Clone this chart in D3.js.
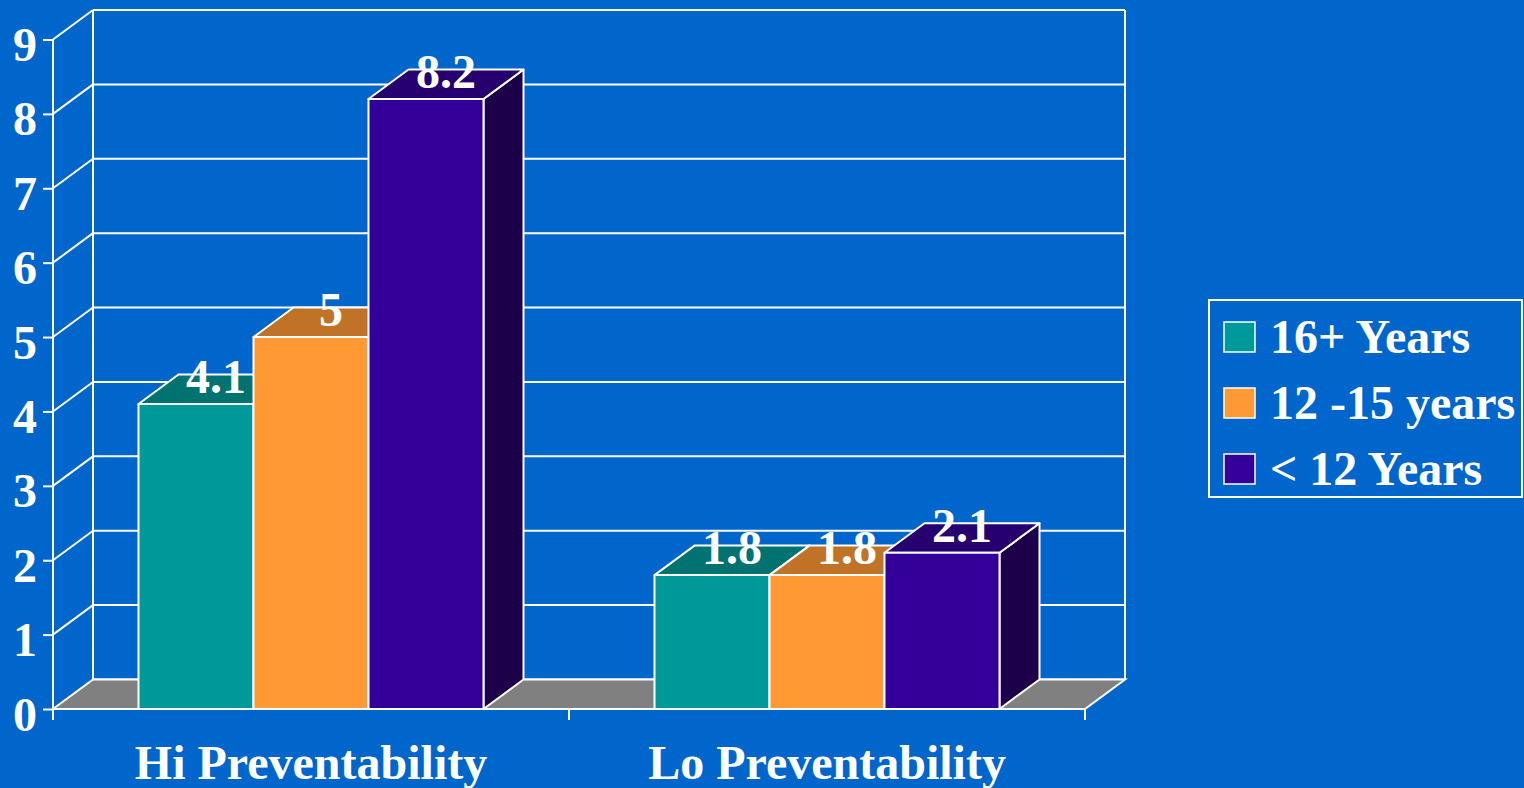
<!DOCTYPE html>
<html>
<head>
<meta charset="utf-8">
<script src="https://cdn.jsdelivr.net/npm/d3@7"></script>
<style>
  html, body { margin: 0; padding: 0; background: #0066CC; }
  svg { display: block; }
  text { font-family: "Liberation Serif", "Times New Roman", serif; font-weight: bold; fill: #fff; }
</style>
</head>
<body>
<svg id="chart" width="1524" height="788"></svg>
<script>
// Chart data
const categories = ["Hi Preventability", "Lo Preventability"];
const seriesNames = ["16+ Years", "12 -15 years", "< 12 Years"];
const years16plus = [4.1, 1.8];
const years12to15 = [5, 1.8];
const under12 = [8.2, 2.1];
const yTicks = [0, 1, 2, 3, 4, 5, 6, 7, 8, 9];

const seriesValues = [years16plus, years12to15, under12];

// Face colours: front, top, side
const palette = [
  { front: "#009999", top: "#007370", side: "#004D4D" },
  { front: "#FF9933", top: "#C07326", side: "#804D1A" },
  { front: "#330099", top: "#26006F", side: "#1C004A" }
];

const FONT = 48;
const svg = d3.select("#chart");
const W = 1524, H = 788;
svg.append("rect").attr("width", W).attr("height", H).attr("fill", "#0066CC");

// 3D depth offset
const DX = 40, DY = -29.5;

const x0 = d3.scaleBand().domain(categories).range([53, 1085]).paddingInner(0).paddingOuter(0);
const x1 = d3.scaleBand().domain(seriesNames).range([85.5, 430.5]).paddingInner(0).paddingOuter(0);
const y = d3.scaleLinear().domain([0, 9]).range([709, 39.5]);

const xL = x0.range()[0], xR = x0.range()[1];
const white = "#ffffff";

const walls = svg.append("g").attr("stroke", white).attr("stroke-width", 2).attr("fill", "none");

// Back wall gridlines
walls.selectAll("line.grid").data(yTicks).join("line")
  .attr("x1", xL + DX).attr("x2", xR + DX)
  .attr("y1", d => y(d) + DY).attr("y2", d => y(d) + DY);
// Side wall diagonals
walls.selectAll("line.diag").data(yTicks.filter(d => d > 0)).join("line")
  .attr("x1", xL).attr("y1", d => y(d))
  .attr("x2", xL + DX).attr("y2", d => y(d) + DY);
// Back wall verticals
walls.append("line").attr("x1", xL + DX).attr("x2", xL + DX).attr("y1", y(9) + DY).attr("y2", y(0) + DY);
walls.append("line").attr("x1", xR + DX).attr("x2", xR + DX).attr("y1", y(9) + DY).attr("y2", y(0) + DY);

// Floor
svg.append("polygon")
  .attr("points", [[xL, y(0)], [xR, y(0)], [xR + DX, y(0) + DY], [xL + DX, y(0) + DY]].map(p => p.join(",")).join(" "))
  .attr("fill", "#808080").attr("stroke", white).attr("stroke-width", 2);

// Value axis with ticks
const yAxis = svg.append("g").attr("transform", `translate(${xL},0)`)
  .call(d3.axisLeft(y).tickValues(yTicks).tickSize(10).tickPadding(6).tickFormat(d3.format("d")));
yAxis.select(".domain").remove();
yAxis.selectAll(".tick line").attr("stroke", white).attr("stroke-width", 2);
yAxis.selectAll(".tick text").attr("fill", white).attr("font-size", FONT).attr("dy", 21)
  .attr("font-family", "Liberation Serif, Times New Roman, serif").attr("font-weight", "bold");
svg.append("line").attr("x1", xL).attr("x2", xL).attr("y1", y(9)).attr("y2", y(0) + 11)
  .attr("stroke", white).attr("stroke-width", 2);

// Bars
const bars = [];
categories.forEach((c, ci) => {
  seriesNames.forEach((s, si) => {
    bars.push({ cat: c, series: s, si, value: seriesValues[si][ci] });
  });
});

const barG = svg.append("g");
bars.forEach(b => {
  const xa = x0(b.cat) + x1(b.series);
  const xb = xa + x1.bandwidth();
  const yt = y(b.value), yb = y(0);
  const col = palette[b.si];
  const g = barG.append("g").attr("stroke", white).attr("stroke-width", 2).attr("stroke-linejoin", "round");
  // side
  g.append("polygon").attr("fill", col.side)
    .attr("points", [[xb, yb], [xb, yt], [xb + DX, yt + DY], [xb + DX, yb + DY]].map(p => p.join(",")).join(" "));
  // top
  g.append("polygon").attr("fill", col.top)
    .attr("points", [[xa, yt], [xa + DX, yt + DY], [xb + DX, yt + DY], [xb, yt]].map(p => p.join(",")).join(" "));
  // front
  g.append("rect").attr("fill", col.front)
    .attr("x", xa).attr("y", yt).attr("width", xb - xa).attr("height", yb - yt);
});

// Front baseline and category ticks
const xAxis = svg.append("g").attr("transform", `translate(0,${y(0)})`);
xAxis.append("line").attr("x1", xL).attr("x2", xR).attr("y1", 0).attr("y2", 0)
  .attr("stroke", white).attr("stroke-width", 2);
const bounds = [xL, x0(categories[1]), xR];
xAxis.selectAll("line.tk").data(bounds).join("line")
  .attr("x1", d => d).attr("x2", d => d).attr("y1", 0).attr("y2", 11)
  .attr("stroke", white).attr("stroke-width", 2);
xAxis.selectAll("text.cat").data(categories).join("text")
  .attr("x", d => x0(d) + x0.bandwidth() / 2).attr("y", 70)
  .attr("text-anchor", "middle").attr("font-size", FONT).text(d => d);

// Value labels on bar tops
svg.append("g").selectAll("text").data(bars).join("text")
  .attr("x", d => x0(d.cat) + x1(d.series) + x1.bandwidth() / 2 + DX / 2)
  .attr("y", d => y(d.value) - 11)
  .attr("text-anchor", "middle").attr("font-size", FONT)
  .text(d => d3.format("")(d.value));

// Legend
const lg = svg.append("g").attr("transform", "translate(1209,300)");
lg.append("rect").attr("width", 313).attr("height", 197)
  .attr("fill", "none").attr("stroke", white).attr("stroke-width", 2);
const items = lg.selectAll("g.item").data(seriesNames).join("g")
  .attr("transform", (d, i) => `translate(15,${22 + i * 66})`);
items.append("rect").attr("width", 31).attr("height", 30)
  .attr("fill", (d, i) => palette[i].front).attr("stroke", white).attr("stroke-width", 1.5);
items.append("text").attr("x", 46).attr("y", 31).attr("font-size", FONT).text(d => d);
</script>
</body>
</html>
